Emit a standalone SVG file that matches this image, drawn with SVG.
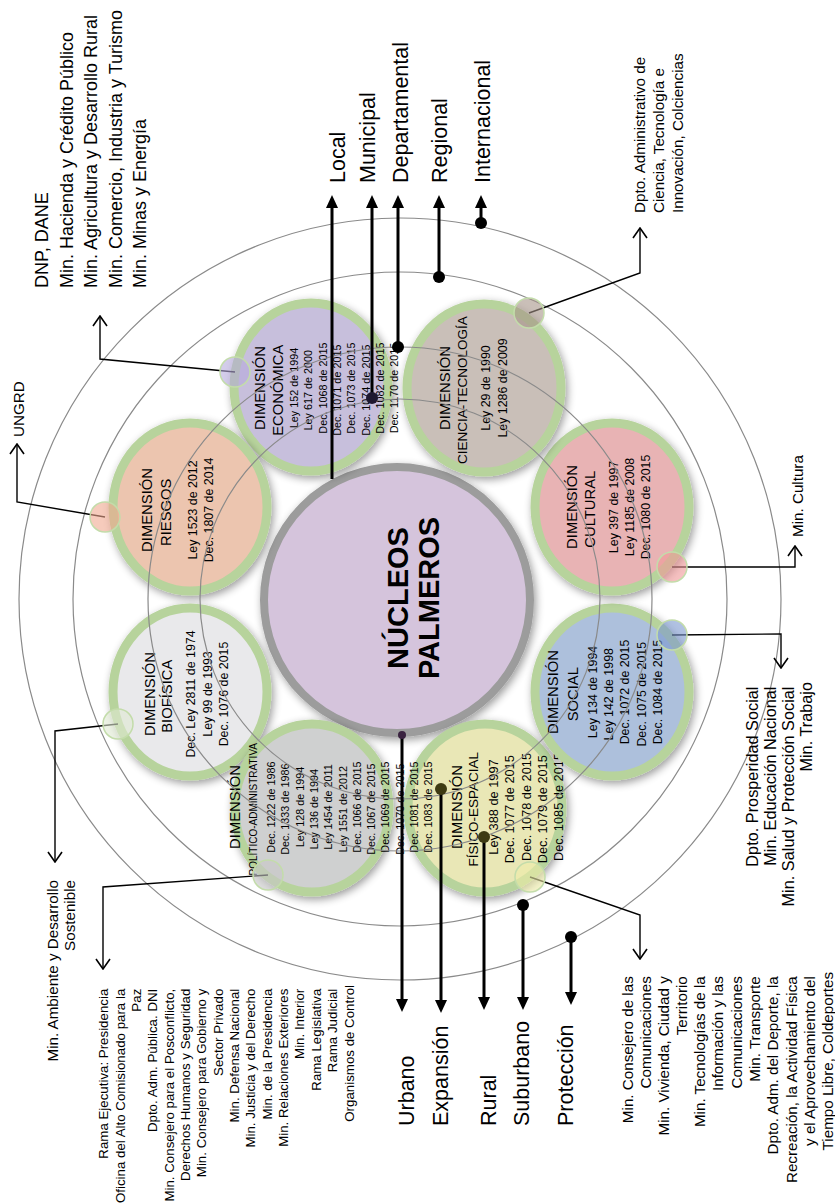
<svg xmlns="http://www.w3.org/2000/svg" width="835" height="1203" viewBox="0 0 835 1203">
<defs>
<filter id="sh" x="-20%" y="-20%" width="140%" height="140%">
<feGaussianBlur in="SourceAlpha" stdDeviation="4"/>
<feOffset dx="2" dy="3"/>
<feComponentTransfer><feFuncA type="linear" slope="0.4"/></feComponentTransfer>
<feMerge><feMergeNode/><feMergeNode in="SourceGraphic"/></feMerge>
</filter>
<marker id="fa" viewBox="0 0 13 12" refX="1" refY="6" markerWidth="13" markerHeight="12" markerUnits="userSpaceOnUse" orient="auto"><path d="M0,0 L13,6 L0,12 z" fill="#000"/></marker>
<marker id="oa" viewBox="0 0 12 16" refX="11" refY="8" markerWidth="12" markerHeight="16" markerUnits="userSpaceOnUse" orient="auto"><path d="M1,1 L11,8 L1,15" fill="none" stroke="#000" stroke-width="1.6"/></marker>
</defs>
<style>
.dim{stroke:#b7d39c;stroke-width:9}
.ring{fill:none;stroke:#8a8a8a;stroke-width:1.2}
.t{font-family:"Liberation Sans",Arial,sans-serif;fill:#000}
.h{font-size:14.8px}
.hs{font-size:13.5px}
.law{font-size:12.4px}
.lawL{font-size:12.8px}
.lawS{font-size:10.8px}
.scale{font-size:21.5px}
.ag{font-size:15.2px}
.ag2{font-size:13.3px}
.ag3{font-size:16.3px}
.big{font-size:18px}
.thick{stroke:#000;stroke-width:3;fill:none;marker-end:url(#fa)}
.thin{stroke:#000;stroke-width:1.4;fill:none;marker-end:url(#oa)}
.sm{stroke:#c3dcaa;stroke-width:1.5;fill-opacity:0.6}
</style>
<rect width="835" height="1203" fill="#fff"/>

<g id="nucleos">
<circle cx="397" cy="600" r="133" fill="#d5c4dc" stroke="#9c9c9c" stroke-width="8" filter="url(#sh)"/>
<g transform="translate(397,598) rotate(-90)"><text class="t" font-weight="bold" font-size="29" text-anchor="middle"><tspan x="0" y="11">NÚCLEOS</tspan><tspan x="0" y="42">PALMEROS</tspan></text></g>
</g>

<g id="dim-economica">
<ellipse cx="311" cy="387" rx="77" ry="84" fill="#c7bfdc" class="dim" filter="url(#sh)"/>
<g transform="translate(311,388) rotate(-90)"><text class="t" text-anchor="middle">
<tspan class="h" x="0" y="-46">DIMENSIÓN</tspan><tspan class="h" x="0" y="-28">ECONÓMICA</tspan>
<tspan class="lawS" x="0" y="-13">Ley 152 de 1994</tspan><tspan class="lawS" x="0" y="1.3">Ley 617 de 2000</tspan>
<tspan class="lawS" x="0" y="15.6">Dec. 1068 de 2015</tspan><tspan class="lawS" x="0" y="29.9">Dec. 1071 de 2015</tspan>
<tspan class="lawS" x="0" y="44.2">Dec. 1073 de 2015</tspan><tspan class="lawS" x="0" y="58.5">Dec. 1074 de 2015</tspan>
<tspan class="lawS" x="0" y="72.8">Dec. 1082 de 2015</tspan><tspan class="lawS" x="0" y="87.1">Dec. 1170 de 2015</tspan>
</text></g>
</g>

<g id="dim-riesgos">
<ellipse cx="190" cy="507" rx="77" ry="84" fill="#ecc5af" class="dim" filter="url(#sh)"/>
<g transform="translate(190,510) rotate(-90)"><text class="t" text-anchor="middle">
<tspan class="h" x="0" y="-38">DIMENSIÓN</tspan><tspan class="h" x="0" y="-19">RIESGOS</tspan>
<tspan class="law" x="0" y="7">Ley 1523 de 2012</tspan><tspan class="law" x="0" y="23">Dec. 1807 de 2014</tspan>
</text></g>
</g>

<g id="dim-biofisica">
<ellipse cx="190" cy="692" rx="77" ry="84" fill="#e9e9eb" class="dim" filter="url(#sh)"/>
<g transform="translate(190,694) rotate(-90)"><text class="t" text-anchor="middle">
<tspan class="h" x="0" y="-35">DIMENSIÓN</tspan><tspan class="h" x="0" y="-18">BIOFÍSICA</tspan>
<tspan class="law" x="0" y="5">Dec. Ley 2811 de 1974</tspan><tspan class="law" x="0" y="22">Ley 99 de 1993</tspan><tspan class="law" x="0" y="38">Dec. 1076 de 2015</tspan>
</text></g>
</g>

<g id="dim-fisico">
<ellipse cx="485" cy="808" rx="77" ry="84" fill="#e9e7b6" class="dim" filter="url(#sh)"/>
<g transform="translate(485,807) rotate(-90)"><text class="t" text-anchor="middle">
<tspan class="h" x="0" y="-23">DIMENSIÓN</tspan><tspan class="hs" x="0" y="-7">FÍSICO-ESPACIAL</tspan>
<tspan class="lawL" x="0" y="13">Ley 388 de 1997</tspan><tspan class="lawL" x="0" y="29.3">Dec. 1077 de 2015</tspan>
<tspan class="lawL" x="0" y="45.6">Dec. 1078 de 2015</tspan><tspan class="lawL" x="0" y="61.9">Dec. 1079 de 2015</tspan>
<tspan class="lawL" x="0" y="78.2">Dec. 1085 de 2015</tspan>
</text></g>
</g>

<g id="dim-politico">
<ellipse cx="312" cy="808" rx="77" ry="84" fill="#cfd0d0" class="dim" filter="url(#sh)"/>
<g transform="translate(312,807) rotate(-90)"><text class="t" text-anchor="middle">
<tspan class="h" x="0" y="-72">DIMENSIÓN</tspan><tspan font-size="10" x="0" y="-55">POLÍTICO-ADMINISTRATIVA</tspan>
<tspan class="lawS" x="0" y="-37">Dec. 1222 de 1986</tspan><tspan class="lawS" x="0" y="-22.7">Dec. 1333 de 1986</tspan>
<tspan class="lawS" x="0" y="-8.4">Ley 128 de 1994</tspan><tspan class="lawS" x="0" y="5.9">Ley 136 de 1994</tspan>
<tspan class="lawS" x="0" y="20.2">Ley 1454 de 2011</tspan><tspan class="lawS" x="0" y="34.5">Ley 1551 de 2012</tspan>
<tspan class="lawS" x="0" y="48.8">Dec. 1066 de 2015</tspan><tspan class="lawS" x="0" y="63.1">Dec. 1067 de 2015</tspan>
<tspan class="lawS" x="0" y="77.4">Dec. 1069 de 2015</tspan><tspan class="lawS" x="0" y="91.7">Dec. 1070 de 2015</tspan>
<tspan class="lawS" x="0" y="106">Dec. 1081 de 2015</tspan><tspan class="lawS" x="0" y="120.3">Dec. 1083 de 2015</tspan>
</text></g>
</g>

<g id="dim-social">
<ellipse cx="612" cy="692" rx="77" ry="84" fill="#adc0dc" class="dim" filter="url(#sh)"/>
<g transform="translate(612,692) rotate(-90)"><text class="t" text-anchor="middle">
<tspan class="h" x="0" y="-54">DIMENSIÓN</tspan><tspan class="h" x="0" y="-34">SOCIAL</tspan>
<tspan class="law" x="0" y="-15">Ley 134 de 1994</tspan><tspan class="law" x="0" y="1">Ley 142 de 1998</tspan>
<tspan class="law" x="0" y="17">Dec. 1072 de 2015</tspan><tspan class="law" x="0" y="33.5">Dec. 1075 de 2015</tspan>
<tspan class="law" x="0" y="50">Dec. 1084 de 2015</tspan>
</text></g>
</g>

<g id="dim-cultural">
<ellipse cx="612" cy="507" rx="77" ry="84" fill="#e8b3b4" class="dim" filter="url(#sh)"/>
<g transform="translate(612,507) rotate(-90)"><text class="t" text-anchor="middle">
<tspan class="h" x="0" y="-35">DIMENSIÓN</tspan><tspan class="h" x="0" y="-17">CULTURAL</tspan>
<tspan class="law" x="0" y="6">Ley 397 de 1997</tspan><tspan class="law" x="0" y="22">Ley 1185 de 2008</tspan><tspan class="law" x="0" y="38">Dec. 1080 de 2015</tspan>
</text></g>
</g>

<g id="dim-ciencia">
<ellipse cx="484" cy="388" rx="77" ry="84" fill="#c9bfb8" class="dim" filter="url(#sh)"/>
<g transform="translate(484,388) rotate(-90)"><text class="t" text-anchor="middle">
<tspan class="h" x="0" y="-34">DIMENSIÓN</tspan><tspan class="hs" x="0" y="-17">CIENCIA-TECNOLOGÍA</tspan>
<tspan class="law" x="0" y="6">Ley 29 de 1990</tspan><tspan class="law" x="0" y="23">Ley 1286 de 2009</tspan>
</text></g>
</g>

<g id="connectors">
<circle cx="400" cy="599" r="200" class="ring"/>
<circle cx="400" cy="599" r="252" class="ring"/>
<circle cx="400" cy="599" r="327" class="ring"/>
<circle cx="400" cy="599" r="381" class="ring"/>

<path class="thick" d="M332,479 V207"/>
<path class="thick" d="M372,398 V207"/>
<path class="thick" d="M398,347 V207"/>
<path class="thick" d="M439,277 V207"/>
<path class="thick" d="M481,223 V207"/>
<circle cx="372" cy="398" r="6" fill="#1e1830"/>
<circle cx="398" cy="347" r="6"/>
<circle cx="439" cy="277" r="6"/>
<circle cx="481" cy="223" r="6"/>

<path class="thick" d="M402,735 V1000"/>
<path class="thick" d="M441,789 V1001"/>
<path class="thick" d="M484,837 V998"/>
<path class="thick" d="M523,905 V998"/>
<path class="thick" d="M571,937 V993"/>
<circle cx="402" cy="735" r="4" fill="#3a2340"/>
<circle cx="441" cy="789" r="6" fill="#3d3a12"/>
<circle cx="484" cy="837" r="6" fill="#3d3a12"/>
<circle cx="523" cy="905" r="6"/>
<circle cx="571" cy="937" r="6"/>

<path class="thin" d="M235,372 L100,359 L100,316"/>
<path class="thin" d="M105,517 L17,502 L17,444"/>
<path class="thin" d="M118,724 L55,731 L55,862"/>
<path class="thin" d="M268,875 L103,887 L103,969"/>
<path class="thin" d="M530,877 L640,915 L640,959"/>
<path class="thin" d="M672,635 L781,634 L781,668"/>
<path class="thin" d="M672,567 L795,567 L795,546"/>
<path class="thin" d="M529,313 L640,273 L640,228"/>

<circle cx="235" cy="372" r="15" fill="#b6aadc" class="sm"/>
<circle cx="105" cy="517" r="15" fill="#f0a98f" class="sm"/>
<circle cx="118" cy="724" r="15" fill="#e0ead2" class="sm"/>
<circle cx="268" cy="875" r="15" fill="#c8c8c8" class="sm"/>
<circle cx="530" cy="877" r="15" fill="#eeeca8" class="sm"/>
<circle cx="672" cy="635" r="15" fill="#7b98cf" class="sm"/>
<circle cx="672" cy="567" r="15" fill="#f09797" class="sm"/>
<circle cx="529" cy="313" r="15" fill="#a69489" class="sm"/>
</g>

<g id="scale-top">
<g transform="translate(0,183) rotate(-90)"><text class="t scale">
<tspan x="0" y="345">Local</tspan><tspan x="0" y="375">Municipal</tspan><tspan x="0" y="408">Departamental</tspan><tspan x="0" y="447">Regional</tspan><tspan x="0" y="490">Internacional</tspan>
</text></g>
</g>

<g id="scale-bottom">
<g transform="translate(0,1126) rotate(-90)"><text class="t scale">
<tspan x="0" y="414">Urbano</tspan><tspan x="0" y="448">Expansión</tspan><tspan x="0" y="496">Rural</tspan><tspan x="0" y="529">Suburbano</tspan><tspan x="0" y="573">Protección</tspan>
</text></g>
</g>

<g id="ag-economica">
<g transform="translate(0,288) rotate(-90)"><text class="t big">
<tspan x="0" y="48">DNP, DANE</tspan><tspan x="0" y="72.5">Min. Hacienda y Crédito Público</tspan><tspan x="0" y="97">Min. Agricultura y Desarrollo Rural</tspan><tspan x="0" y="121.5">Min. Comercio, Industria y Turismo</tspan><tspan x="0" y="146">Min. Minas y Energía</tspan>
</text></g>
</g>

<g id="ag-riesgos">
<g transform="translate(0,437) rotate(-90)"><text class="t ag"><tspan x="0" y="24">UNGRD</tspan></text></g>
</g>

<g id="ag-biofisica">
<g transform="translate(0,880) rotate(-90)"><text class="t ag" text-anchor="end">
<tspan x="0" y="58">Min. Ambiente y Desarrollo</tspan><tspan x="0" y="75">Sostenible</tspan>
</text></g>
</g>

<g id="ag-politico">
<g transform="translate(0,985) rotate(-90)"><text class="t ag2" text-anchor="end">
<tspan x="0" y="108">Rama Ejecutiva: Presidencia</tspan>
<tspan x="0" y="124.5">Oficina del Alto Comisionado para la</tspan>
<tspan x="0" y="141">Paz</tspan>
<tspan x="0" y="157">Dpto. Adm. Pública. DNI</tspan>
<tspan x="0" y="173.5">Min. Consejero para el Posconflicto,</tspan>
<tspan x="0" y="190">Derechos Humanos y Seguridad</tspan>
<tspan x="0" y="206">Min. Consejero para Gobierno y</tspan>
<tspan x="0" y="222.5">Sector Privado</tspan>
<tspan x="0" y="239">Min. Defensa Nacional</tspan>
<tspan x="0" y="255">Min. Justicia y del Derecho</tspan>
<tspan x="0" y="271.5">Min. de la Presidencia</tspan>
<tspan x="0" y="288">Min. Relaciones Exteriores</tspan>
<tspan x="0" y="304">Min. Interior</tspan>
<tspan x="0" y="320.5">Rama Legislativa</tspan>
<tspan x="0" y="337">Rama Judicial</tspan>
<tspan x="0" y="353.5">Organismos de Control</tspan>
</text></g>
</g>

<g id="ag-fisico">
<g transform="translate(0,972) rotate(-90)"><text class="t ag" text-anchor="end">
<tspan x="0" y="633">Min. Consejero de las</tspan>
<tspan x="0" y="651">Comunicaciones</tspan>
<tspan x="0" y="669">Min. Vivienda, Ciudad y</tspan>
<tspan x="0" y="687">Territorio</tspan>
<tspan x="0" y="705">Min. Tecnologías de la</tspan>
<tspan x="0" y="723">Información y las</tspan>
<tspan x="0" y="742">Comunicaciones</tspan>
<tspan x="0" y="760">Min. Transporte</tspan>
<tspan x="0" y="778">Dpto. Adm. del Deporte, la</tspan>
<tspan x="0" y="797">Recreación, la Actividad Física</tspan>
<tspan x="0" y="815">y el Aprovechamiento del</tspan>
<tspan x="0" y="833">Tiempo Libre, Coldeportes</tspan>
</text></g>
</g>

<g id="ag-social">
<g transform="translate(0,682) rotate(-90)"><text class="t ag3" text-anchor="end">
<tspan x="0" y="758">Dpto. Prosperidad Social</tspan>
<tspan x="0" y="776">Min. Educación Nacional</tspan>
<tspan x="0" y="794">Min. Salud y Protección Social</tspan>
<tspan x="0" y="812">Min. Trabajo</tspan>
</text></g>
</g>

<g id="ag-cultural">
<g transform="translate(0,537) rotate(-90)"><text class="t ag"><tspan x="0" y="803">Min. Cultura</tspan></text></g>
</g>

<g id="ag-ciencia">
<g transform="translate(0,213) rotate(-90)"><text class="t ag">
<tspan x="0" y="645">Dpto. Administrativo de</tspan><tspan x="0" y="664">Ciencia, Tecnología e</tspan><tspan x="0" y="683">Innovación, Colciencias</tspan>
</text></g>
</g>
</svg>
